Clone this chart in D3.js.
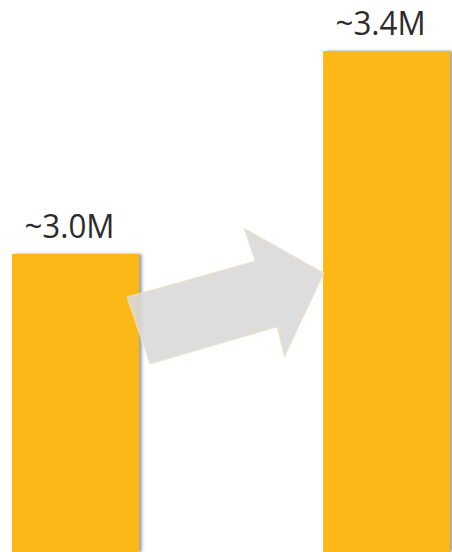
<!DOCTYPE html>
<html><head><meta charset="utf-8">
<script src="https://cdn.jsdelivr.net/npm/d3@7"></script>
<style>html,body{margin:0;padding:0;background:#fff;}svg{display:block;}</style>
</head><body>
<svg id="c" width="452" height="552"></svg>
<script>
const categories = ["Before", "After"];
const values = [3.0, 3.4];
const labels = ["~3.0M", "~3.4M"];

const W = 452, H = 552;
const svg = d3.select("#c");

const x = d3.scaleBand().domain(categories).range([12, 450]).paddingInner(0.592).paddingOuter(0);
const y = d3.scaleLinear().domain([2.413, 3.4]).range([H, 51]);

const defs = svg.append("defs");
const f = defs.append("filter").attr("id", "sh").attr("x", "-10%").attr("y", "-10%").attr("width", "130%").attr("height", "130%");
f.append("feDropShadow").attr("dx", 3).attr("dy", 0).attr("stdDeviation", 1.6).attr("flood-color", "#555").attr("flood-opacity", 0.55);

svg.selectAll("rect.bar").data(values).join("rect")
  .attr("class", "bar")
  .attr("x", (d, i) => x(categories[i]))
  .attr("y", d => y(d))
  .attr("width", x.bandwidth())
  .attr("height", d => H - y(d))
  .attr("fill", "#FCB813")
  .attr("filter", "url(#sh)");

svg.selectAll("text.lbl").data(values).join("text")
  .attr("class", "lbl")
  .attr("x", (d, i) => x(categories[i]) + x.bandwidth() / 2 - 6)
  .attr("y", d => y(d) - 16)
  .attr("text-anchor", "middle")
  .attr("font-family", "'Open Sans', sans-serif")
  .attr("font-size", 32)
  .attr("textLength", 90)
  .attr("lengthAdjust", "spacingAndGlyphs")
  .attr("fill", "#2b2b2b")
  .text((d, i) => labels[i]);

// decorative arrow between the bars, positioned relative to scale outputs
const x0 = x(categories[0]) + x.bandwidth(), x1 = x(categories[1]);
const span = x1 - x0;
const yA = y(values[0]);
const pts = [
  [x0 - 12, yA + 43],
  [x0 + 0.06 * span, yA + 110],
  [x0 + 0.75 * span, yA + 73],
  [x0 + 0.79 * span, yA + 103],
  [x1 + 1, yA + 19],
  [x0 + 0.57 * span, yA - 26],
  [x0 + 0.63 * span, yA + 7]
];
svg.append("path")
  .attr("d", d3.line()(pts) + "Z")
  .attr("fill", "#d9d9d9")
  .attr("fill-opacity", 0.9)
  .attr("stroke", "#f3e6c0")
  .attr("stroke-width", 0.8);
</script>
</body></html>
